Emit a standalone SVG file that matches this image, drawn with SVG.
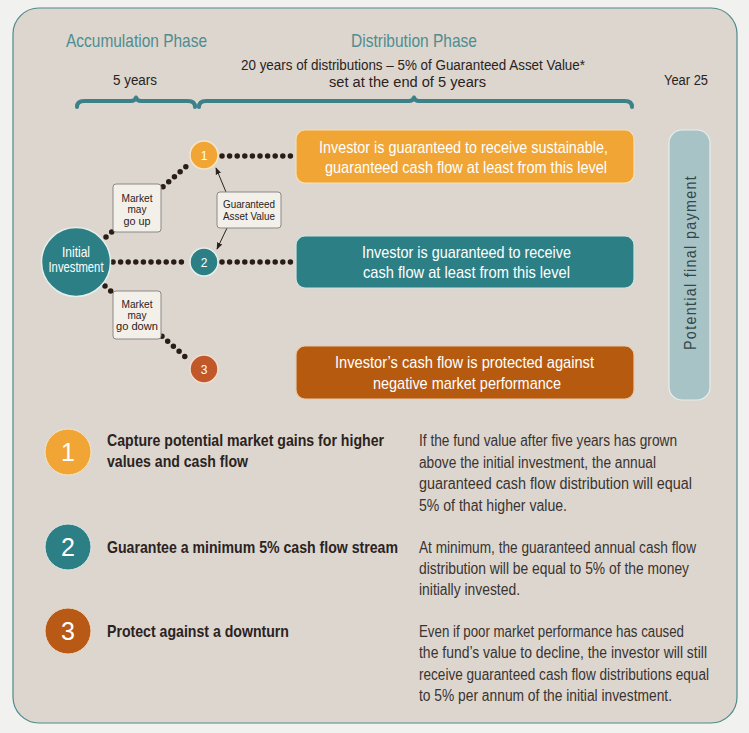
<svg xmlns="http://www.w3.org/2000/svg" width="749" height="733" viewBox="0 0 749 733">
<defs>
<style>
text{font-family:"Liberation Sans Narrow","Liberation Sans",Arial,sans-serif}
.phase{font-size:19px;fill:#4f8d90}
.hdr{font-size:15.5px;fill:#2a2220}
.wt{font-size:17px;fill:#ffffff}
.lbl{font-size:11.5px;fill:#2a2220;text-anchor:middle}
.num{font-size:12px;fill:#ffffff;text-anchor:middle}
.inv{font-size:14.5px;fill:#ffffff;text-anchor:middle}
.bignum{font-size:25px;fill:#ffffff;text-anchor:middle}
.head{font-size:17px;font-weight:bold;fill:#2b2321}
.desc{font-size:16px;fill:#3a3330}
.brace{fill:none;stroke:#3a8188;stroke-width:4;stroke-linecap:round;stroke-linejoin:round}
.dots{fill:none;stroke:#2a1d17;stroke-width:5.5;stroke-linecap:round;stroke-dasharray:0 7.6}
.tag{fill:#f3f0ea;stroke:#8c8984;stroke-width:1}
.arr{fill:none;stroke:#2a2220;stroke-width:1;marker-end:url(#ah)}
</style>
<marker id="ah" viewBox="0 0 10 10" refX="9" refY="5" markerWidth="7" markerHeight="7" orient="auto-start-reverse" markerUnits="userSpaceOnUse">
<path d="M0,1 L10,5 L0,9 z" fill="#2a2220"/>
</marker>
</defs>
<rect width="749" height="733" fill="#f1f1ef"/>
<rect x="13" y="8" width="724" height="715" rx="26" ry="26" fill="#dcd6cf" stroke="#4f8a8c" stroke-width="1.2"/>

<g id="header">
<text class="phase" x="66" y="47" textLength="141" lengthAdjust="spacingAndGlyphs">Accumulation Phase</text>
<text class="phase" x="351" y="47" textLength="126" lengthAdjust="spacingAndGlyphs">Distribution Phase</text>
<text class="hdr" x="113" y="85" textLength="44" lengthAdjust="spacingAndGlyphs">5 years</text>
<text class="hdr" x="241" y="70" textLength="344" lengthAdjust="spacingAndGlyphs">20 years of distributions – 5% of Guaranteed Asset Value*</text>
<text class="hdr" x="329" y="87" textLength="157" lengthAdjust="spacingAndGlyphs">set at the end of 5 years</text>
<text class="hdr" x="664" y="85" textLength="44" lengthAdjust="spacingAndGlyphs">Year 25</text>
<path class="brace" d="M77,107 Q77,101 84,101 L131,101 Q135,101 136,97.5 Q137,101 141,101 L188,101 Q195,101 195,107"/>
<path class="brace" d="M199,107 Q199,101 206,101 L409,101 Q413,101 414,97.5 Q415,101 419,101 L625,101 Q632,101 632,107"/>
</g>

<g id="connectors">
<line class="dots" x1="113" y1="262" x2="188" y2="262"/>
<line class="dots" x1="222" y1="262" x2="294" y2="262"/>
<line class="dots" x1="222" y1="156" x2="294" y2="156"/>
<line class="dots" x1="106" y1="237" x2="190" y2="163"/>
<line class="dots" x1="105" y1="286" x2="190" y2="361"/>
<line class="arr" x1="226" y1="192" x2="216" y2="168"/>
<line class="arr" x1="227" y1="228" x2="217" y2="249"/>
</g>

<g id="initial">
<circle cx="76" cy="262" r="34.5" fill="#2d7f86" stroke="#e6eeea" stroke-width="1.5"/>
<text class="inv" x="76" y="257" textLength="28" lengthAdjust="spacingAndGlyphs">Initial</text>
<text class="inv" x="76" y="272" textLength="55" lengthAdjust="spacingAndGlyphs">Investment</text>
</g>

<g id="node1">
<circle cx="204" cy="155" r="14" fill="#f0a535" stroke="#f6e6c8" stroke-width="1.5"/>
<text class="num" x="204" y="159.5">1</text>
</g>
<g id="node2">
<circle cx="204" cy="262" r="14" fill="#2d7f86" stroke="#e6eeea" stroke-width="1.5"/>
<text class="num" x="204" y="266.5">2</text>
</g>
<g id="node3">
<circle cx="204" cy="369" r="14" fill="#c0582a" stroke="#f1dccd" stroke-width="1.5"/>
<text class="num" x="204" y="373.5">3</text>
</g>

<g id="tag-up">
<rect class="tag" x="113" y="184" width="48" height="48" rx="3"/>
<text class="lbl" x="137" y="202" textLength="31" lengthAdjust="spacingAndGlyphs">Market</text>
<text class="lbl" x="137" y="213" textLength="19" lengthAdjust="spacingAndGlyphs">may</text>
<text class="lbl" x="137" y="224.5" textLength="27" lengthAdjust="spacingAndGlyphs">go up</text>
</g>
<g id="tag-down">
<rect class="tag" x="113" y="291" width="48" height="48" rx="3"/>
<text class="lbl" x="137" y="307.5" textLength="31" lengthAdjust="spacingAndGlyphs">Market</text>
<text class="lbl" x="137" y="318.5" textLength="19" lengthAdjust="spacingAndGlyphs">may</text>
<text class="lbl" x="137" y="330" textLength="42" lengthAdjust="spacingAndGlyphs">go down</text>
</g>
<g id="tag-gav">
<rect class="tag" x="217" y="192" width="64" height="36" rx="3"/>
<text class="lbl" x="249" y="208" textLength="52" lengthAdjust="spacingAndGlyphs">Guaranteed</text>
<text class="lbl" x="249" y="219.5" textLength="52" lengthAdjust="spacingAndGlyphs">Asset Value</text>
</g>

<g id="box1">
<rect x="296" y="130" width="338" height="53" rx="9" fill="#f0a535" stroke="#f7dfb4" stroke-width="1.2"/>
<text class="wt" x="319" y="152.5" textLength="289" lengthAdjust="spacingAndGlyphs">Investor is guaranteed to receive sustainable,</text>
<text class="wt" x="325" y="172.5" textLength="282" lengthAdjust="spacingAndGlyphs">guaranteed cash flow at least from this level</text>
</g>
<g id="box2">
<rect x="296" y="236" width="338" height="52" rx="9" fill="#2d7f86" stroke="#cfe3e2" stroke-width="1.2"/>
<text class="wt" x="362" y="257.5" textLength="209" lengthAdjust="spacingAndGlyphs">Investor is guaranteed to receive</text>
<text class="wt" x="363" y="277.5" textLength="207" lengthAdjust="spacingAndGlyphs">cash flow at least from this level</text>
</g>
<g id="box3">
<rect x="296" y="346" width="338" height="53" rx="9" fill="#b65a10" stroke="#eac9a8" stroke-width="1.2"/>
<text class="wt" x="335" y="367.5" textLength="259" lengthAdjust="spacingAndGlyphs">Investor’s cash flow is protected against</text>
<text class="wt" x="373" y="388.5" textLength="188" lengthAdjust="spacingAndGlyphs">negative market performance</text>
</g>
<g id="final">
<rect x="669" y="130" width="41" height="270" rx="13" fill="#a8c3c6" stroke="#e6eeee" stroke-width="1.2"/>
<text transform="translate(695.5,262.5) rotate(-90)" x="0" y="0" text-anchor="middle" style="font-family:'Liberation Sans',Arial,sans-serif;font-size:16.5px;fill:#33474b;letter-spacing:1.5px" textLength="175" lengthAdjust="spacingAndGlyphs">Potential final payment</text>
</g>

<g id="item1">
<circle cx="68" cy="452" r="23" fill="#f0a535" stroke="#f3e6cc" stroke-width="1"/>
<text class="bignum" x="68" y="461">1</text>
<text class="head" x="107" y="446" textLength="277" lengthAdjust="spacingAndGlyphs">Capture potential market gains for higher</text>
<text class="head" x="107" y="467" textLength="141" lengthAdjust="spacingAndGlyphs">values and cash flow</text>
<text class="desc" x="419" y="446" textLength="258" lengthAdjust="spacingAndGlyphs">If the fund value after five years has grown</text>
<text class="desc" x="419" y="468" textLength="237" lengthAdjust="spacingAndGlyphs">above the initial investment, the annual</text>
<text class="desc" x="419" y="489" textLength="273" lengthAdjust="spacingAndGlyphs">guaranteed cash flow distribution will equal</text>
<text class="desc" x="419" y="511" textLength="148" lengthAdjust="spacingAndGlyphs">5% of that higher value.</text>
</g>
<g id="item2">
<circle cx="68" cy="547" r="23" fill="#2d7f86" stroke="#dce8e6" stroke-width="1"/>
<text class="bignum" x="68" y="556">2</text>
<text class="head" x="107" y="553" textLength="291" lengthAdjust="spacingAndGlyphs">Guarantee a minimum 5% cash flow stream</text>
<text class="desc" x="419" y="553" textLength="277" lengthAdjust="spacingAndGlyphs">At minimum, the guaranteed annual cash flow</text>
<text class="desc" x="419" y="574" textLength="270" lengthAdjust="spacingAndGlyphs">distribution will be equal to 5% of the money</text>
<text class="desc" x="419" y="595" textLength="101" lengthAdjust="spacingAndGlyphs">initially invested.</text>
</g>
<g id="item3">
<circle cx="68" cy="631" r="23" fill="#b85a16" stroke="#efd9c4" stroke-width="1"/>
<text class="bignum" x="68" y="640">3</text>
<text class="head" x="107" y="637" textLength="182" lengthAdjust="spacingAndGlyphs">Protect against a downturn</text>
<text class="desc" x="419" y="637" textLength="265" lengthAdjust="spacingAndGlyphs">Even if poor market performance has caused</text>
<text class="desc" x="419" y="658" textLength="288" lengthAdjust="spacingAndGlyphs">the fund’s value to decline, the investor will still</text>
<text class="desc" x="419" y="680" textLength="290" lengthAdjust="spacingAndGlyphs">receive guaranteed cash flow distributions equal</text>
<text class="desc" x="419" y="701" textLength="253" lengthAdjust="spacingAndGlyphs">to 5% per annum of the initial investment.</text>
</g>
</svg>
